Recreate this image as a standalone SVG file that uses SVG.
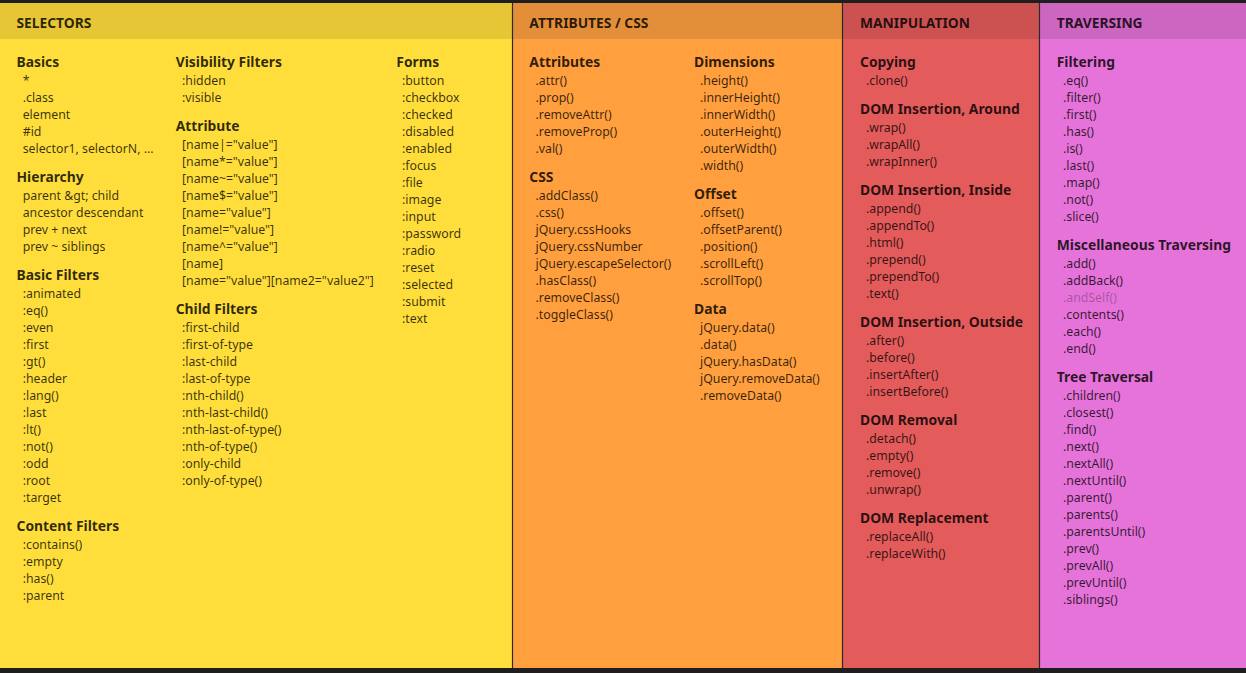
<svg xmlns="http://www.w3.org/2000/svg" width="1246" height="673" viewBox="0 0 1246 673">
<style>
text{font-family:"Noto Sans","Open Sans","DejaVu Sans",sans-serif;}
.hd{font-size:13.8px;font-weight:bold;fill:#000;fill-opacity:0.82;}
.g{font-size:13.85px;font-weight:bold;fill:#000;fill-opacity:0.82;}
.i{font-size:12.3px;fill:#000;fill-opacity:0.78;}
.dep{fill-opacity:0.28;}
.div{stroke:#2a2a2a;stroke-width:1.2;}
</style>
<rect x="0" y="0" width="1246" height="673" fill="#1e1e1e"/>
<g id="bg">
<rect x="0" y="3" width="513" height="665" fill="#ffde3b"/>
<rect x="0" y="3" width="513" height="36" fill="#e6c634"/>
<rect x="513" y="3" width="330" height="665" fill="#ff9f3e"/>
<rect x="513" y="3" width="330" height="36" fill="#e38e38"/>
<rect x="843" y="3" width="197" height="665" fill="#e35b5b"/>
<rect x="843" y="3" width="197" height="36" fill="#cc5151"/>
<rect x="1040" y="3" width="206" height="665" fill="#e673d9"/>
<rect x="1040" y="3" width="206" height="36" fill="#cc66c1"/>
</g>
<g id="connectors">
<line class="div" x1="512.5" y1="3" x2="512.5" y2="668"/>
<line class="div" x1="842.5" y1="3" x2="842.5" y2="668"/>
<line class="div" x1="1039.5" y1="3" x2="1039.5" y2="668"/>
</g>
<g id="headers">
<text class="hd" x="16.5" y="28">SELECTORS</text>
<text class="hd" x="529.3" y="28">ATTRIBUTES / CSS</text>
<text class="hd" x="860" y="28">MANIPULATION</text>
<text class="hd" x="1056.7" y="28">TRAVERSING</text>
</g>
<g id="sel-basics">
<text class="g" x="16.5" y="66.7">Basics</text>
<text class="i" x="22.7" y="84.7">*</text>
<text class="i" x="22.7" y="101.7">.class</text>
<text class="i" x="22.7" y="118.7">element</text>
<text class="i" x="22.7" y="135.7">#id</text>
<text class="i" x="22.7" y="152.7">selector1, selectorN, ...</text>
</g>
<g id="sel-hierarchy">
<text class="g" x="16.5" y="181.7">Hierarchy</text>
<text class="i" x="22.7" y="199.7">parent &amp;gt; child</text>
<text class="i" x="22.7" y="216.7">ancestor descendant</text>
<text class="i" x="22.7" y="233.7">prev + next</text>
<text class="i" x="22.7" y="250.7">prev ~ siblings</text>
</g>
<g id="sel-basic-filters">
<text class="g" x="16.5" y="279.7">Basic Filters</text>
<text class="i" x="22.7" y="297.7">:animated</text>
<text class="i" x="22.7" y="314.7">:eq()</text>
<text class="i" x="22.7" y="331.7">:even</text>
<text class="i" x="22.7" y="348.7">:first</text>
<text class="i" x="22.7" y="365.7">:gt()</text>
<text class="i" x="22.7" y="382.7">:header</text>
<text class="i" x="22.7" y="399.7">:lang()</text>
<text class="i" x="22.7" y="416.7">:last</text>
<text class="i" x="22.7" y="433.7">:lt()</text>
<text class="i" x="22.7" y="450.7">:not()</text>
<text class="i" x="22.7" y="467.7">:odd</text>
<text class="i" x="22.7" y="484.7">:root</text>
<text class="i" x="22.7" y="501.7">:target</text>
</g>
<g id="sel-content-filters">
<text class="g" x="16.5" y="530.7">Content Filters</text>
<text class="i" x="22.7" y="548.7">:contains()</text>
<text class="i" x="22.7" y="565.7">:empty</text>
<text class="i" x="22.7" y="582.7">:has()</text>
<text class="i" x="22.7" y="599.7">:parent</text>
</g>
<g id="sel-visibility">
<text class="g" x="175.7" y="66.7">Visibility Filters</text>
<text class="i" x="182" y="84.7">:hidden</text>
<text class="i" x="182" y="101.7">:visible</text>
</g>
<g id="sel-attribute">
<text class="g" x="175.7" y="130.7">Attribute</text>
<text class="i" x="182" y="148.7">[name|="value"]</text>
<text class="i" x="182" y="165.7">[name*="value"]</text>
<text class="i" x="182" y="182.7">[name~="value"]</text>
<text class="i" x="182" y="199.7">[name$="value"]</text>
<text class="i" x="182" y="216.7">[name="value"]</text>
<text class="i" x="182" y="233.7">[name!="value"]</text>
<text class="i" x="182" y="250.7">[name^="value"]</text>
<text class="i" x="182" y="267.7">[name]</text>
<text class="i" x="182" y="284.7">[name="value"][name2="value2"]</text>
</g>
<g id="sel-child-filters">
<text class="g" x="175.7" y="313.7">Child Filters</text>
<text class="i" x="182" y="331.7">:first-child</text>
<text class="i" x="182" y="348.7">:first-of-type</text>
<text class="i" x="182" y="365.7">:last-child</text>
<text class="i" x="182" y="382.7">:last-of-type</text>
<text class="i" x="182" y="399.7">:nth-child()</text>
<text class="i" x="182" y="416.7">:nth-last-child()</text>
<text class="i" x="182" y="433.7">:nth-last-of-type()</text>
<text class="i" x="182" y="450.7">:nth-of-type()</text>
<text class="i" x="182" y="467.7">:only-child</text>
<text class="i" x="182" y="484.7">:only-of-type()</text>
</g>
<g id="sel-forms">
<text class="g" x="396.3" y="66.7">Forms</text>
<text class="i" x="402" y="84.7">:button</text>
<text class="i" x="402" y="101.7">:checkbox</text>
<text class="i" x="402" y="118.7">:checked</text>
<text class="i" x="402" y="135.7">:disabled</text>
<text class="i" x="402" y="152.7">:enabled</text>
<text class="i" x="402" y="169.7">:focus</text>
<text class="i" x="402" y="186.7">:file</text>
<text class="i" x="402" y="203.7">:image</text>
<text class="i" x="402" y="220.7">:input</text>
<text class="i" x="402" y="237.7">:password</text>
<text class="i" x="402" y="254.7">:radio</text>
<text class="i" x="402" y="271.7">:reset</text>
<text class="i" x="402" y="288.7">:selected</text>
<text class="i" x="402" y="305.7">:submit</text>
<text class="i" x="402" y="322.7">:text</text>
</g>
<g id="attr-attributes">
<text class="g" x="529.3" y="66.7">Attributes</text>
<text class="i" x="535.5" y="84.7">.attr()</text>
<text class="i" x="535.5" y="101.7">.prop()</text>
<text class="i" x="535.5" y="118.7">.removeAttr()</text>
<text class="i" x="535.5" y="135.7">.removeProp()</text>
<text class="i" x="535.5" y="152.7">.val()</text>
</g>
<g id="attr-css">
<text class="g" x="529.3" y="181.7">CSS</text>
<text class="i" x="535.5" y="199.7">.addClass()</text>
<text class="i" x="535.5" y="216.7">.css()</text>
<text class="i" x="535.5" y="233.7">jQuery.cssHooks</text>
<text class="i" x="535.5" y="250.7">jQuery.cssNumber</text>
<text class="i" x="535.5" y="267.7">jQuery.escapeSelector()</text>
<text class="i" x="535.5" y="284.7">.hasClass()</text>
<text class="i" x="535.5" y="301.7">.removeClass()</text>
<text class="i" x="535.5" y="318.7">.toggleClass()</text>
</g>
<g id="attr-dimensions">
<text class="g" x="694" y="66.7">Dimensions</text>
<text class="i" x="700" y="84.7">.height()</text>
<text class="i" x="700" y="101.7">.innerHeight()</text>
<text class="i" x="700" y="118.7">.innerWidth()</text>
<text class="i" x="700" y="135.7">.outerHeight()</text>
<text class="i" x="700" y="152.7">.outerWidth()</text>
<text class="i" x="700" y="169.7">.width()</text>
</g>
<g id="attr-offset">
<text class="g" x="694" y="198.7">Offset</text>
<text class="i" x="700" y="216.7">.offset()</text>
<text class="i" x="700" y="233.7">.offsetParent()</text>
<text class="i" x="700" y="250.7">.position()</text>
<text class="i" x="700" y="267.7">.scrollLeft()</text>
<text class="i" x="700" y="284.7">.scrollTop()</text>
</g>
<g id="attr-data">
<text class="g" x="694" y="313.7">Data</text>
<text class="i" x="700" y="331.7">jQuery.data()</text>
<text class="i" x="700" y="348.7">.data()</text>
<text class="i" x="700" y="365.7">jQuery.hasData()</text>
<text class="i" x="700" y="382.7">jQuery.removeData()</text>
<text class="i" x="700" y="399.7">.removeData()</text>
</g>
<g id="man-copying">
<text class="g" x="860" y="66.7">Copying</text>
<text class="i" x="866" y="84.7">.clone()</text>
</g>
<g id="man-around">
<text class="g" x="860" y="113.7">DOM Insertion, Around</text>
<text class="i" x="866" y="131.7">.wrap()</text>
<text class="i" x="866" y="148.7">.wrapAll()</text>
<text class="i" x="866" y="165.7">.wrapInner()</text>
</g>
<g id="man-inside">
<text class="g" x="860" y="194.7">DOM Insertion, Inside</text>
<text class="i" x="866" y="212.7">.append()</text>
<text class="i" x="866" y="229.7">.appendTo()</text>
<text class="i" x="866" y="246.7">.html()</text>
<text class="i" x="866" y="263.7">.prepend()</text>
<text class="i" x="866" y="280.7">.prependTo()</text>
<text class="i" x="866" y="297.7">.text()</text>
</g>
<g id="man-outside">
<text class="g" x="860" y="326.7">DOM Insertion, Outside</text>
<text class="i" x="866" y="344.7">.after()</text>
<text class="i" x="866" y="361.7">.before()</text>
<text class="i" x="866" y="378.7">.insertAfter()</text>
<text class="i" x="866" y="395.7">.insertBefore()</text>
</g>
<g id="man-removal">
<text class="g" x="860" y="424.7">DOM Removal</text>
<text class="i" x="866" y="442.7">.detach()</text>
<text class="i" x="866" y="459.7">.empty()</text>
<text class="i" x="866" y="476.7">.remove()</text>
<text class="i" x="866" y="493.7">.unwrap()</text>
</g>
<g id="man-replacement">
<text class="g" x="860" y="522.7">DOM Replacement</text>
<text class="i" x="866" y="540.7">.replaceAll()</text>
<text class="i" x="866" y="557.7">.replaceWith()</text>
</g>
<g id="trav-filtering">
<text class="g" x="1056.7" y="66.7">Filtering</text>
<text class="i" x="1063" y="84.7">.eq()</text>
<text class="i" x="1063" y="101.7">.filter()</text>
<text class="i" x="1063" y="118.7">.first()</text>
<text class="i" x="1063" y="135.7">.has()</text>
<text class="i" x="1063" y="152.7">.is()</text>
<text class="i" x="1063" y="169.7">.last()</text>
<text class="i" x="1063" y="186.7">.map()</text>
<text class="i" x="1063" y="203.7">.not()</text>
<text class="i" x="1063" y="220.7">.slice()</text>
</g>
<g id="trav-misc">
<text class="g" x="1056.7" y="249.7">Miscellaneous Traversing</text>
<text class="i" x="1063" y="267.7">.add()</text>
<text class="i" x="1063" y="284.7">.addBack()</text>
<text class="i dep" x="1063" y="301.7">.andSelf()</text>
<text class="i" x="1063" y="318.7">.contents()</text>
<text class="i" x="1063" y="335.7">.each()</text>
<text class="i" x="1063" y="352.7">.end()</text>
</g>
<g id="trav-tree">
<text class="g" x="1056.7" y="381.7">Tree Traversal</text>
<text class="i" x="1063" y="399.7">.children()</text>
<text class="i" x="1063" y="416.7">.closest()</text>
<text class="i" x="1063" y="433.7">.find()</text>
<text class="i" x="1063" y="450.7">.next()</text>
<text class="i" x="1063" y="467.7">.nextAll()</text>
<text class="i" x="1063" y="484.7">.nextUntil()</text>
<text class="i" x="1063" y="501.7">.parent()</text>
<text class="i" x="1063" y="518.7">.parents()</text>
<text class="i" x="1063" y="535.7">.parentsUntil()</text>
<text class="i" x="1063" y="552.7">.prev()</text>
<text class="i" x="1063" y="569.7">.prevAll()</text>
<text class="i" x="1063" y="586.7">.prevUntil()</text>
<text class="i" x="1063" y="603.7">.siblings()</text>
</g>
</svg>
